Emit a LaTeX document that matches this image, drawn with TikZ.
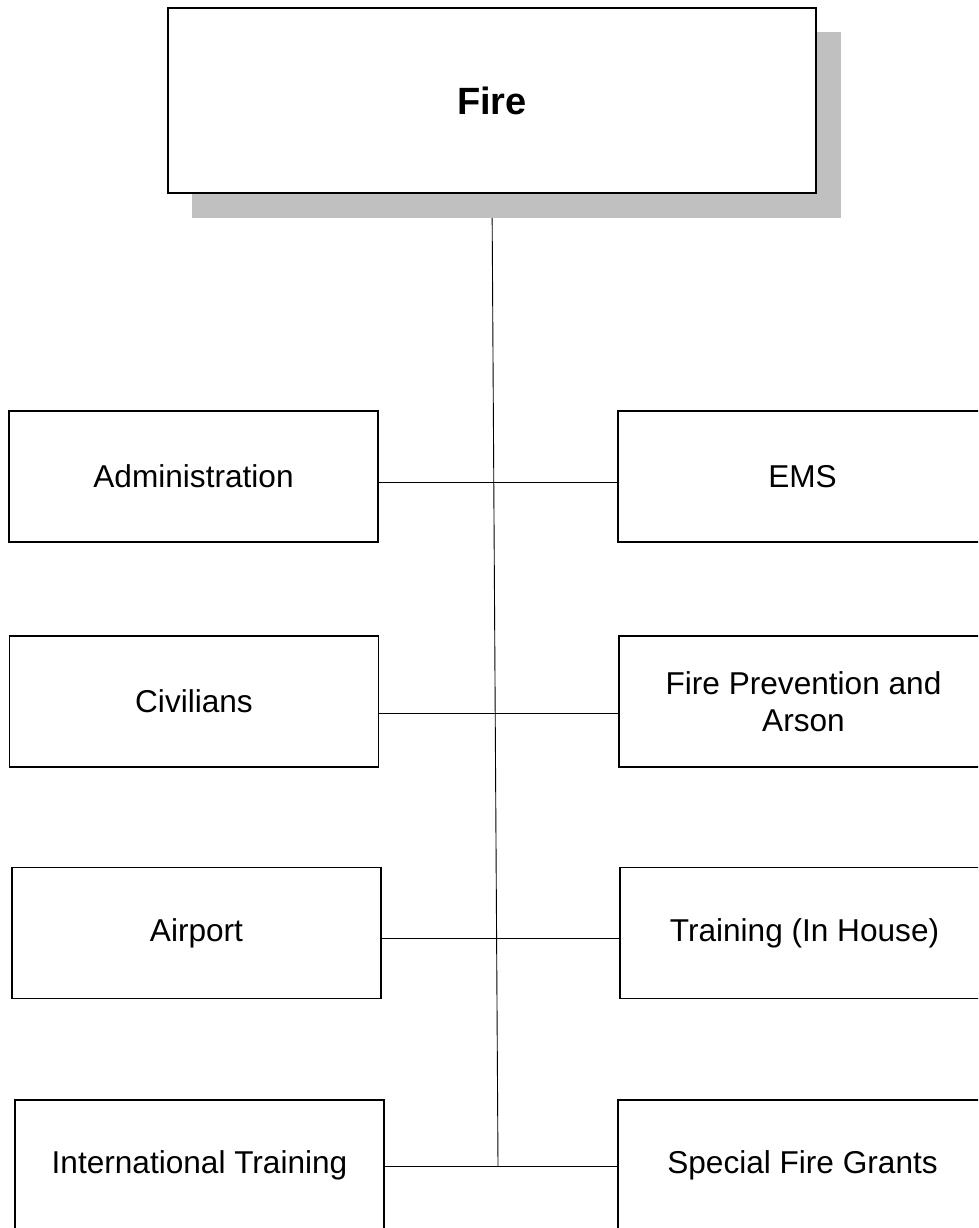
\documentclass[tikz,border=0pt]{standalone}
\usepackage{fontspec}
\setmainfont{Liberation Sans}
\usetikzlibrary{backgrounds}
\definecolor{shadowgray}{HTML}{C0C0C0}
\begin{document}
\begin{tikzpicture}[x=1pt,y=-1pt,
  unitbox/.style={draw, line width=1.5pt, fill=white, minimum width=369pt, minimum height=131pt,
    inner sep=0pt, align=center, font=\fontsize{31.6}{37}\selectfont},
  topbox/.style={draw, line width=1.5pt, fill=white, minimum width=648pt, minimum height=185pt,
    inner sep=0pt, font=\bfseries\fontsize{38}{44}\selectfont},
  link/.style={line width=0.9pt, draw=black},
]
\useasboundingbox (0,0) rectangle (978,1228);
\clip (0,0) rectangle (978,1228);
% shadow of the top box
\fill[shadowgray] (192,32) rectangle (841,218);
\node[topbox] (fire) at (492,100.5) {\raisebox{-2pt}{Fire}};

% left column
\node[unitbox] (admin) at (193.5,476.5) {Administration};
\node[unitbox] (civ)   at (194,701.5) {Civilians};
\node[unitbox] (air)   at (196.5,933) {Airport};
\node[unitbox] (intl)  at (199.5,1165.5) {International Training};

% right column
\node[unitbox] (ems)   at (802.5,476.5) {EMS};
\node[unitbox] (fpa)   at (803.5,701.5) {Fire Prevention and\\Arson};
\node[unitbox] (train) at (804.5,933) {Training (In House)};
\node[unitbox] (sfg)   at (802.5,1165.5) {Special Fire Grants};

\coordinate (trunkend) at (498,1166);

\begin{pgfonlayer}{background}
\draw[link] (fire.south) -- (trunkend);
\end{pgfonlayer}

\draw[link] (admin.east |- 0,482) -- (ems.west |- 0,482);
\draw[link] (civ.east |- 0,713) -- (fpa.west |- 0,713);
\draw[link] (air.east |- 0,938) -- (train.west |- 0,938);
\draw[link] (intl.east |- 0,1166) -- (sfg.west |- 0,1166);
\end{tikzpicture}
\end{document}
